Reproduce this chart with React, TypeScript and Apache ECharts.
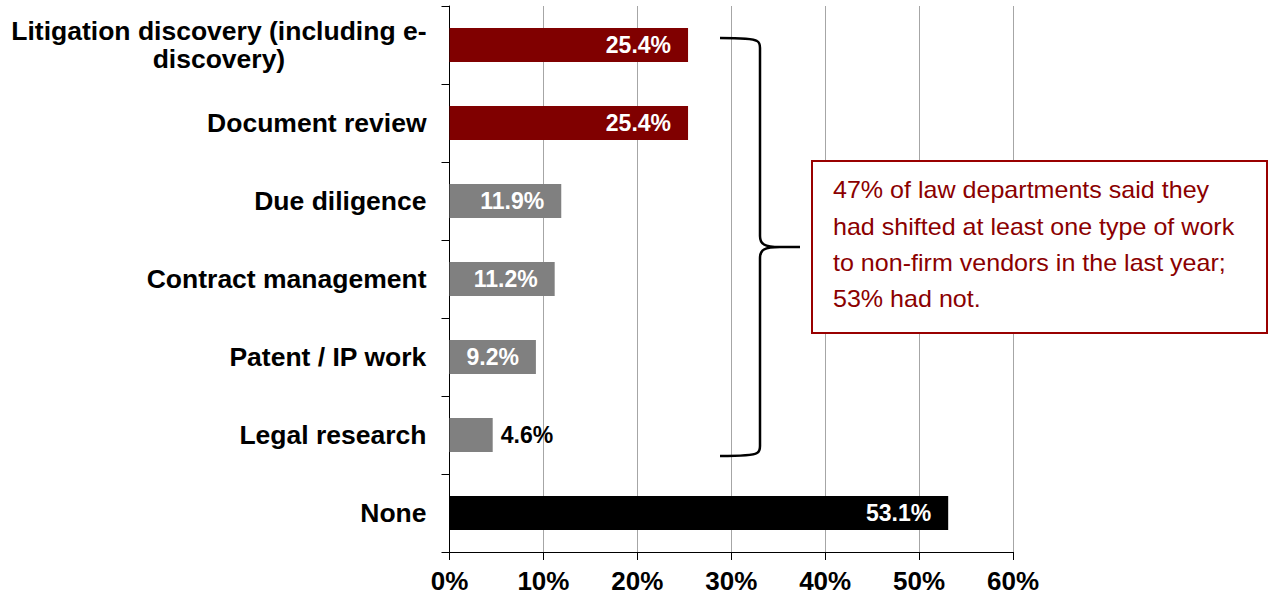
import React, { useEffect, useRef } from "react";
import * as echarts from "echarts";

const categories = [
  "Litigation discovery (including e-\ndiscovery)",
  "Document review",
  "Due diligence",
  "Contract management",
  "Patent / IP work",
  "Legal research",
  "None",
];
const values = [25.4, 25.4, 11.9, 11.2, 9.2, 4.6, 53.1];
const barColors = ["#800000", "#800000", "#808080", "#808080", "#808080", "#808080", "#000000"];
const labelInside = [true, true, true, true, true, false, true];
const xMin = 0;
const xMax = 60;
const xStep = 10;
const annotationLines = [
  "47% of law departments said they",
  "had shifted at least one type of work",
  "to non-firm vendors in the last year;",
  "53% had not.",
];

const FONT = "Arial, 'Liberation Sans', sans-serif";
const BRACE_D =
  "M720 38 C742 38 754 39 757 41 C759 42 760 44 760 48 L760 236 C760 244 764 247 780 247 L800 247 L780 247 C764 247 760 250 760 258 L760 446 C760 450 759 452 757 453 C754 455 742 456 720 456";

let braceRegistered = false;

export default function App() {
  const ref = useRef<HTMLDivElement>(null);
  useEffect(() => {
    if (!ref.current) return;
    if (!braceRegistered) {
      echarts.graphic.registerShape("brace", (echarts.graphic as any).extendPath(BRACE_D, {}));
      braceRegistered = true;
    }
    const chart = echarts.init(ref.current, undefined, { renderer: "svg" });
    const data = values.map((v, i) => ({
      value: v,
      itemStyle: { color: barColors[i] },
      label: labelInside[i]
        ? { position: "insideRight", distance: 17, color: "#ffffff" }
        : { position: "right", distance: 8, color: "#000000" },
    }));
    chart.setOption({
      animation: false,
      backgroundColor: "#ffffff",
      grid: { left: 449.5, right: 257, top: 6, bottom: 48, containLabel: false },
      xAxis: {
        type: "value",
        min: xMin,
        max: xMax,
        interval: xStep,
        axisLine: { show: true, lineStyle: { color: "#000", width: 1 } },
        axisTick: { show: true, length: 8, lineStyle: { color: "#000" } },
        splitLine: { show: true, lineStyle: { color: "#a6a6a6", width: 1 } },
        axisLabel: {
          formatter: "{value}%",
          fontFamily: FONT,
          fontSize: 26,
          fontWeight: "bold",
          color: "#000",
          margin: 16,
        },
      },
      yAxis: {
        type: "category",
        inverse: true,
        data: categories,
        axisLine: { show: true, lineStyle: { color: "#000", width: 1 } },
        axisTick: { show: true, length: 8, lineStyle: { color: "#000" } },
        axisLabel: {
          margin: 23,
          align: "right",
          formatter: (v: string) => v.split("\n").map((s) => `{a|${s}}`).join("\n"),
          rich: {
            a: {
              align: "center",
              fontFamily: FONT,
              fontSize: 26.5,
              fontWeight: "bold",
              color: "#000",
              lineHeight: 28,
            },
          },
        },
      },
      series: [
        {
          type: "bar",
          data,
          barWidth: 34,
          label: {
            show: true,
            formatter: (p: any) => p.value.toFixed(1) + "%",
            fontFamily: FONT,
            fontSize: 23,
            fontWeight: "bold",
          },
        },
      ],
      graphic: [
        {
          type: "brace",
          x: 0,
          y: 0,
          silent: true,
          z: 100,
          style: { fill: "none", stroke: "#000", lineWidth: 2.5 },
        },
        {
          type: "rect",
          z: 100,
          shape: { x: 812, y: 161, width: 455, height: 172 },
          style: { fill: "#ffffff", stroke: "#990000", lineWidth: 2 },
        },
        {
          type: "text",
          z: 101,
          x: 833,
          y: 172,
          scaleX: 1.09,
          style: {
            text: annotationLines.join("\n"),
            fill: "#8B0000",
            font: `23px ${FONT}`,
            lineHeight: 36.3,
            textAlign: "left",
            textVerticalAlign: "top",
          },
        },
      ],
    });
    return () => chart.dispose();
  }, []);
  return (
    <div
      ref={ref}
      style={{ position: "fixed", left: 0, top: 0, width: 1270, height: 600, background: "#fff" }}
    />
  );
}
